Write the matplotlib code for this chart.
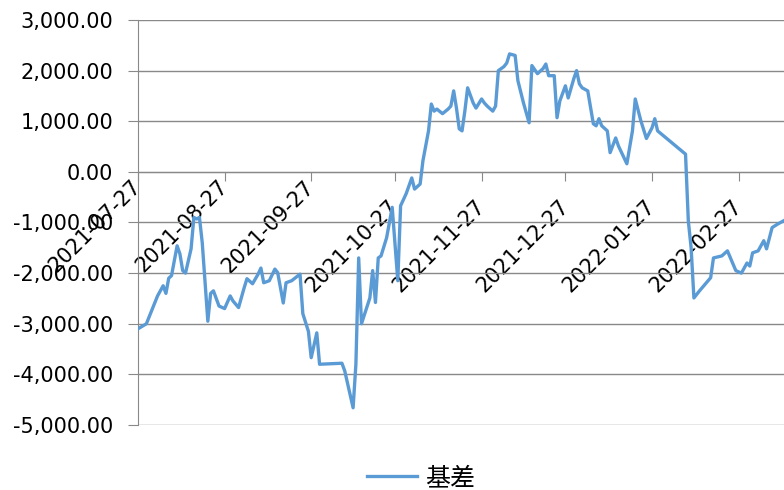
import matplotlib
matplotlib.use("Agg")
import matplotlib.pyplot as plt
import matplotlib.transforms as mtransforms
from matplotlib.ticker import MultipleLocator, FuncFormatter
import pandas as pd

plt.rcParams['font.family'] = ['DejaVu Sans', 'Noto Sans CJK SC']

# Data (basis, daily)
dates = [
    "2021-07-27", "2021-07-30", "2021-08-03", "2021-08-05", "2021-08-06", "2021-08-07",
    "2021-08-08", "2021-08-10", "2021-08-11", "2021-08-12", "2021-08-13", "2021-08-15",
    "2021-08-16", "2021-08-17", "2021-08-18", "2021-08-19", "2021-08-21", "2021-08-22",
    "2021-08-23", "2021-08-25", "2021-08-27", "2021-08-29", "2021-08-30", "2021-09-01",
    "2021-09-03", "2021-09-04", "2021-09-06", "2021-09-08", "2021-09-09", "2021-09-10",
    "2021-09-12", "2021-09-14", "2021-09-15", "2021-09-17", "2021-09-18", "2021-09-20",
    "2021-09-23", "2021-09-24", "2021-09-26", "2021-09-27", "2021-09-29", "2021-09-30",
    "2021-10-08", "2021-10-09", "2021-10-12", "2021-10-13", "2021-10-14", "2021-10-15",
    "2021-10-18", "2021-10-19", "2021-10-20", "2021-10-21", "2021-10-22", "2021-10-24",
    "2021-10-26", "2021-10-28", "2021-10-29", "2021-10-31", "2021-11-02", "2021-11-03",
    "2021-11-05", "2021-11-06", "2021-11-08", "2021-11-09", "2021-11-10", "2021-11-11",
    "2021-11-13", "2021-11-15", "2021-11-16", "2021-11-17", "2021-11-18", "2021-11-19",
    "2021-11-20", "2021-11-21", "2021-11-22", "2021-11-24", "2021-11-25", "2021-11-27",
    "2021-11-28", "2021-11-29", "2021-12-01", "2021-12-02", "2021-12-03", "2021-12-05",
    "2021-12-06", "2021-12-07", "2021-12-09", "2021-12-10", "2021-12-12", "2021-12-14",
    "2021-12-15", "2021-12-17", "2021-12-19", "2021-12-20", "2021-12-21", "2021-12-23",
    "2021-12-24", "2021-12-25", "2021-12-27", "2021-12-28", "2021-12-30", "2021-12-31",
    "2022-01-01", "2022-01-02", "2022-01-04", "2022-01-06", "2022-01-07", "2022-01-08",
    "2022-01-09", "2022-01-11", "2022-01-12", "2022-01-14", "2022-01-15", "2022-01-18",
    "2022-01-20", "2022-01-21", "2022-01-23", "2022-01-25", "2022-01-27", "2022-01-28",
    "2022-01-29", "2022-02-08", "2022-02-09", "2022-02-10", "2022-02-11", "2022-02-13",
    "2022-02-17", "2022-02-18", "2022-02-21", "2022-02-23", "2022-02-26", "2022-02-28",
    "2022-03-02", "2022-03-03", "2022-03-04", "2022-03-06", "2022-03-08", "2022-03-09",
    "2022-03-11", "2022-03-13", "2022-03-15",
]
basis = [
    -3100, -3000, -2450, -2250, -2400, -2100,
    -2050, -1460, -1620, -1950, -2000, -1520,
    -900, -930, -900, -1400, -2950, -2400,
    -2350, -2650, -2700, -2450, -2550, -2680,
    -2290, -2110, -2210, -2020, -1900, -2190,
    -2150, -1920, -1990, -2590, -2190, -2150,
    -2020, -2800, -3150, -3670, -3180, -3800,
    -3780, -3930, -4660, -3800, -1700, -3000,
    -2490, -1950, -2580, -1700, -1660, -1300,
    -700, -2150, -670, -430, -120, -340,
    -240, 220, 810, 1340, 1200, 1240,
    1150, 1240, 1300, 1600, 1260, 850,
    810, 1200, 1660, 1360, 1260, 1440,
    1360, 1300, 1200, 1300, 2000, 2080,
    2150, 2330, 2300, 1800, 1360, 970,
    2100, 1940, 2040, 2130, 1900, 1900,
    1070, 1400, 1700, 1460, 1840, 2000,
    1740, 1660, 1600, 950, 910, 1050,
    910, 810, 380, 670, 510, 160,
    810, 1440, 1010, 660, 870, 1050,
    810, 350, -970, -1500, -2490, -2350,
    -2090, -1700, -1660, -1560, -1950, -2000,
    -1800, -1860, -1600, -1560, -1360, -1520,
    -1100, -1030, -970,
]
tick_dates = ["2021-07-27", "2021-08-27", "2021-09-27", "2021-10-27",
              "2021-11-27", "2021-12-27", "2022-01-27", "2022-02-27"]
series_name = "基差"

grid_col = "#898989"

fig = plt.figure(figsize=(7.84, 4.9), dpi=100)
ax = fig.add_axes([138 / 784, 65 / 490, 646 / 784, 405 / 490])

ax.plot(pd.to_datetime(dates), basis, color="#5B9BD5", lw=2.4,
        solid_joinstyle="round", label=series_name, zorder=3)

ax.set_ylim(-5000, 3000)
ax.set_xlim(pd.Timestamp("2021-07-27"), pd.Timestamp("2022-03-15 06:00"))
ax.yaxis.set_major_locator(MultipleLocator(1000))
ax.yaxis.set_major_formatter(FuncFormatter(lambda v, p: f"{v:,.2f}"))
ax.grid(axis="y", color=grid_col, lw=1)
ax.set_axisbelow(True)

for s in ["top", "right"]:
    ax.spines[s].set_visible(False)
ax.spines["left"].set_color(grid_col)
ax.spines["bottom"].set_position(("data", 0))
ax.spines["bottom"].set_color(grid_col)

ax.set_xticks(pd.to_datetime(tick_dates))
ax.set_xticklabels(tick_dates, rotation=45, ha="right", va="center",
                   rotation_mode="anchor")
ax.tick_params(axis="x", direction="out", length=6.5, color=grid_col,
               pad=16, labelsize=15)
ax.tick_params(axis="y", direction="out", length=7, color=grid_col,
               pad=11, labelsize=15)

# the first three labels sit a bit higher in the original
for lab in ax.get_xticklabels()[:3]:
    lab.set_transform(lab.get_transform() +
                      mtransforms.ScaledTranslation(0, 14 / 72, fig.dpi_scale_trans))

fig.legend(loc="center", bbox_to_anchor=(421 / 784, 12 / 490), frameon=False,
           prop={"family": "Noto Sans CJK SC", "size": 18},
           handlelength=2.0, handletextpad=0.3)

fig.savefig("out.png", dpi=100)
